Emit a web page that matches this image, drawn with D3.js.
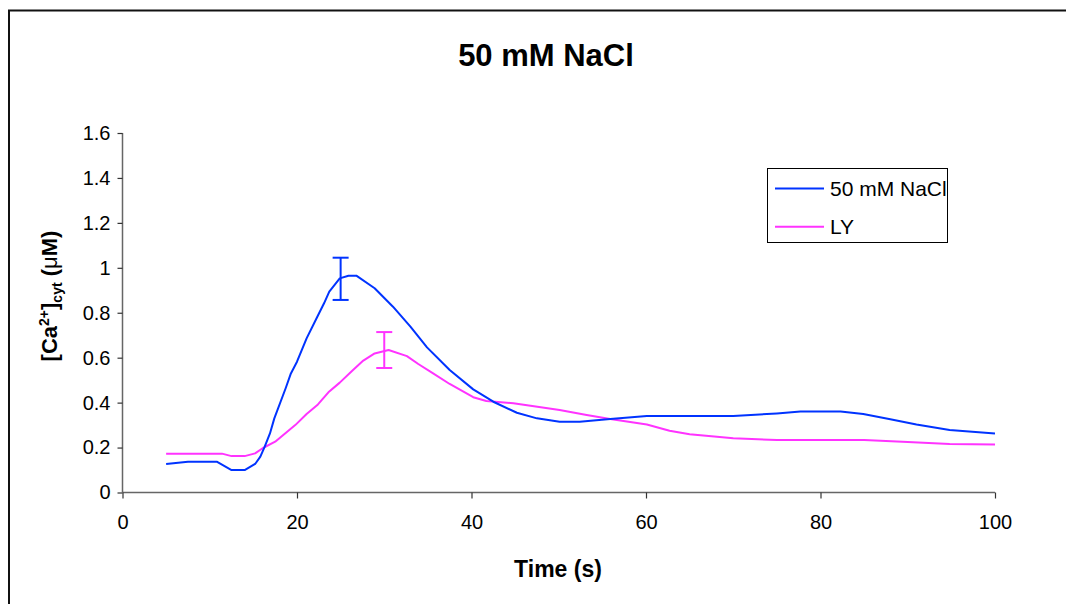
<!DOCTYPE html>
<html>
<head>
<meta charset="utf-8">
<script src="https://cdn.jsdelivr.net/npm/d3@7/dist/d3.min.js"></script>
<style>
  html, body { margin: 0; padding: 0; background: #fff; }
  svg { display: block; font-family: "Liberation Sans", Arial, sans-serif; }
</style>
</head>
<body>
<svg id="chart" width="1066" height="604"></svg>
<script>
// Cytosolic calcium response, 50 mM NaCl vs LY
const timeNaCl = [5, 7.5, 10.8, 12.5, 14, 15.2, 15.8, 16.3, 16.9, 17.4, 18.7, 19.3, 20, 21.1, 22.3, 23.1, 23.7, 24.9, 25.9, 26.8, 28.9, 31, 33, 34.9, 37.5, 40.2, 42.5, 45.2, 47.5, 50.1, 52.4, 55.9, 60.1, 65, 70, 75, 77.7, 82.3, 84.9, 88, 91, 94.8, 100];
const caNaCl   = [0.127, 0.137, 0.137, 0.10, 0.10, 0.127, 0.16, 0.204, 0.263, 0.33, 0.464, 0.53, 0.582, 0.686, 0.78, 0.842, 0.894, 0.953, 0.965, 0.965, 0.909, 0.827, 0.738, 0.646, 0.545, 0.459, 0.404, 0.355, 0.33, 0.315, 0.315, 0.327, 0.34, 0.34, 0.34, 0.352, 0.36, 0.36, 0.349, 0.326, 0.303, 0.278, 0.263];

const timeLY = [5, 11.4, 12.5, 14, 15.2, 16.1, 17.5, 19.8, 21.1, 22.4, 23.6, 24.9, 26.3, 27.6, 28.9, 30.5, 32.6, 33.9, 35.6, 37.5, 40.2, 41.7, 44.8, 50.1, 53.2, 55.9, 60.1, 62.7, 65, 70, 75, 80, 85, 90, 94.8, 100];
const caLY   = [0.173, 0.173, 0.162, 0.162, 0.174, 0.198, 0.226, 0.30, 0.349, 0.392, 0.446, 0.489, 0.541, 0.587, 0.619, 0.634, 0.607, 0.572, 0.53, 0.483, 0.424, 0.407, 0.397, 0.367, 0.345, 0.327, 0.303, 0.275, 0.259, 0.241, 0.234, 0.234, 0.234, 0.225, 0.216, 0.214];

// Error bars at the response peaks
const errTimeNaCl = [25];
const errMeanNaCl = [0.951];
const errSdNaCl   = [0.094];
const errTimeLY = [30];
const errMeanLY = [0.634];
const errSdLY   = [0.08];

const seriesNames = ["50 mM NaCl", "LY"];
const xTicks = [0, 20, 40, 60, 80, 100];
const yTicks = [0, 0.2, 0.4, 0.6, 0.8, 1, 1.2, 1.4, 1.6];

const COL_NACL = "#0033ff";
const COL_LY = "#ff33ff";
const AXIS_COL = "#666";

const svg = d3.select("#chart");

// outer chart frame
svg.append("rect")
  .attr("x", 9).attr("y", 10.5)
  .attr("width", 1100).attr("height", 700)
  .attr("fill", "none").attr("stroke", "#111").attr("stroke-width", 2);

const plot = { left: 122.5, right: 995, top: 133, bottom: 492.5 };

const x = d3.scaleLinear().domain([0, 100]).range([plot.left, plot.right]);
const y = d3.scaleLinear().domain([0, 1.6]).range([plot.bottom, plot.top]);

// title
svg.append("text")
  .attr("x", 546).attr("y", 66)
  .attr("text-anchor", "middle")
  .attr("font-weight", "bold")
  .attr("font-size", 31)
  .text("50 mM NaCl");

// axes
const yAxis = svg.append("g")
  .attr("transform", `translate(${plot.left},0)`)
  .call(d3.axisLeft(y).tickValues(yTicks).tickSize(5).tickPadding(7)
    .tickFormat(d => String(+d.toFixed(1))));
const xAxis = svg.append("g")
  .attr("transform", `translate(0,${plot.bottom})`)
  .call(d3.axisBottom(x).tickValues(xTicks).tickSize(6).tickPadding(16)
    .tickFormat(d => String(d)));

[yAxis, xAxis].forEach(g => {
  g.select(".domain").attr("stroke", AXIS_COL).attr("stroke-width", 1.5)
    .attr("d", g === yAxis
      ? `M0,${plot.top}V${plot.bottom}`
      : `M${plot.left},0H${plot.right}`);
  g.selectAll(".tick line").attr("stroke", "#333").attr("stroke-width", 1.2);
  g.selectAll(".tick text")
    .attr("fill", "#000")
    .attr("font-size", 20)
    .attr("font-family", "Liberation Sans, Arial, sans-serif");
});

// axis titles
svg.append("text")
  .attr("x", 558).attr("y", 577)
  .attr("text-anchor", "middle")
  .attr("font-weight", "bold")
  .attr("font-size", 23)
  .text("Time (s)");

const yTitle = svg.append("text")
  .attr("transform", "translate(57,296) rotate(-90)")
  .attr("text-anchor", "middle")
  .attr("font-weight", "bold")
  .attr("font-size", 22);
yTitle.append("tspan").text("[Ca");
yTitle.append("tspan").attr("font-size", 14).attr("dy", -8).text("2+");
yTitle.append("tspan").attr("dy", 8).text("]");
yTitle.append("tspan").attr("font-size", 14).attr("dy", 5).text("cyt");
yTitle.append("tspan").attr("dy", -5).text(" (");
yTitle.append("tspan").attr("font-weight", "normal").text("\u03bc");
yTitle.append("tspan").text("M)");

// series lines
const line = d3.line().x(d => x(d[0])).y(d => y(d[1]));
const series = [
  { name: seriesNames[0], color: COL_NACL, pts: d3.zip(timeNaCl, caNaCl),
    err: d3.zip(errTimeNaCl, errMeanNaCl, errSdNaCl) },
  { name: seriesNames[1], color: COL_LY, pts: d3.zip(timeLY, caLY),
    err: d3.zip(errTimeLY, errMeanLY, errSdLY) }
];

// LY drawn first so the NaCl trace sits on top
[series[1], series[0]].forEach(s => {
  svg.append("path")
    .datum(s.pts)
    .attr("d", line)
    .attr("fill", "none")
    .attr("stroke", s.color)
    .attr("stroke-width", 2)
    .attr("stroke-linejoin", "round");

  const eb = svg.append("g").attr("stroke", s.color).attr("stroke-width", 2);
  s.err.forEach(([t, m, sd]) => {
    const cx = x(t);
    eb.append("line").attr("x1", cx).attr("x2", cx).attr("y1", y(m + sd)).attr("y2", y(m - sd));
    eb.append("line").attr("x1", cx - 8).attr("x2", cx + 8).attr("y1", y(m + sd)).attr("y2", y(m + sd));
    eb.append("line").attr("x1", cx - 8).attr("x2", cx + 8).attr("y1", y(m - sd)).attr("y2", y(m - sd));
  });
});

// legend
const legend = svg.append("g");
legend.append("rect")
  .attr("x", 767.5).attr("y", 168.5).attr("width", 180).attr("height", 74)
  .attr("fill", "#fff").attr("stroke", "#000").attr("stroke-width", 1);
const legClip = svg.append("clipPath").attr("id", "legclip");
legClip.append("rect").attr("x", 768).attr("y", 169).attr("width", 179).attr("height", 73);
series.forEach((s, i) => {
  const ly = 188.5 + i * 38.3;
  legend.append("line")
    .attr("x1", 775).attr("x2", 824).attr("y1", ly).attr("y2", ly)
    .attr("stroke", s.color).attr("stroke-width", 2);
  legend.append("text")
    .attr("x", 830).attr("y", ly + 7.5)
    .attr("font-size", 21)
    .attr("clip-path", "url(#legclip)")
    .text(s.name);
});
</script>
</body>
</html>
